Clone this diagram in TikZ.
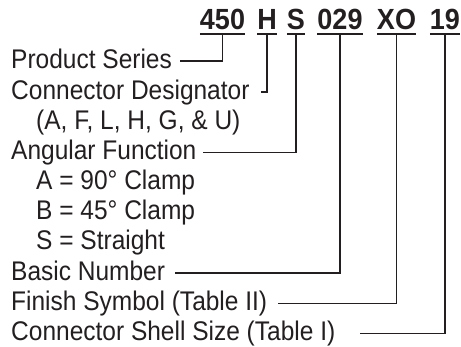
\documentclass[tikz,border=0pt]{standalone}
\usepackage{fontspec}
\setmainfont{Liberation Sans}
\definecolor{ink}{HTML}{231F20}
\begin{document}
\begin{tikzpicture}[x=1pt,y=-1pt, color=ink,
  lbl/.style={anchor=base west, inner sep=0pt, text=ink, font=\fontsize{24.5}{24.5}\selectfont},
  code/.style={anchor=base, inner sep=0pt, text depth=0pt, text=ink, font=\fontsize{27}{27}\selectfont\bfseries},
  uline/.style={draw=ink, line width=2.4pt},
  lead/.style={draw=ink, line width=1.8pt}]
\useasboundingbox (0,0) rectangle (461,347);
% code parts
\node[code] (n450) at (222.5,29.5) {\scalebox{1}[1.08]{450}};
\node[code] (nH)   at (267,29.5)   {\scalebox{1}[1.08]{H}};
\node[code] (nS)   at (296,29.5)   {\scalebox{1}[1.08]{S}};
\node[code] (n029) at (340,29.5)   {\scalebox{1}[1.08]{029}};
\node[code] (nXO)  at (396.5,29.5) {\scalebox{1}[1.08]{XO}};
\node[code] (n19)  at (445,29.5)   {\scalebox{1}[1.08]{19}};
\foreach \n in {n450,nH,nS,n029,nXO,n19}{
  \draw[uline] ([yshift=-4.5pt]\n.south west) -- ([yshift=-4.5pt]\n.south east);
  \coordinate (\n-u) at ([yshift=-4.5pt]\n.south);
}
% labels
\node[lbl] (ps)  at (11,69)  {\scalebox{1}[1.1]{Product Series}};
\node[lbl] (cd)  at (11,99.5)  {\scalebox{1}[1.1]{Connector Designator}};
\node[lbl] (cdo) at (36,129.5) {\scalebox{1}[1.1]{(A, F, L, H, G, \& U)}};
\node[lbl] (af)  at (11,160) {\scalebox{1}[1.1]{Angular Function}};
\node[lbl] (afa) at (36,190) {\scalebox{1}[1.1]{A = 90° Clamp}};
\node[lbl] (afb) at (36,220) {\scalebox{1}[1.1]{B = 45° Clamp}};
\node[lbl] (afs) at (36,250) {\scalebox{1}[1.1]{S = Straight}};
\node[lbl] (bn)  at (11,280.5) {\scalebox{1}[1.1]{Basic Number}};
\node[lbl] (fs)  at (11,310.5) {\scalebox{1}[1.1]{Finish Symbol (Table II)}};
\node[lbl] (ss)  at (11,341) {\scalebox{1}[1.1]{Connector Shell Size (Table I)}};
% leader starts
\coordinate (psL) at (180,61);
\coordinate (cdL) at (261,92);
\coordinate (afL) at (203,152.5);
\coordinate (bnL) at (175,273);
\coordinate (fsL) at (278,303.5);
\coordinate (ssL) at (360,333.5);
% leaders
\draw[lead] (psL) -| (n450-u);
\draw[lead] (cdL) -| (nH-u);
\draw[lead] (afL) -| (nS-u);
\draw[lead] (bnL) -| (n029-u);
\draw[lead] (fsL) -| (nXO-u);
\draw[lead] (ssL) -| (n19-u);
\end{tikzpicture}
\end{document}
